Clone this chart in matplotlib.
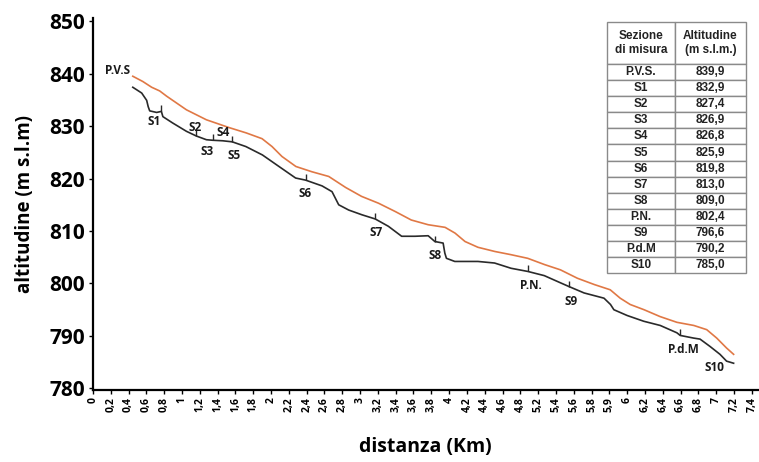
import matplotlib
matplotlib.use("Agg")
import matplotlib.pyplot as plt
import numpy as np

# profilo del fondo (linea nera) - distanza km, altitudine m s.l.m.
x_fondo = [0.447, 0.547, 0.603, 0.620, 0.637, 0.715, 0.768, 0.785, 0.894, 1.050,
           1.162, 1.274, 1.344, 1.456, 1.564, 1.717, 1.903, 2.089, 2.276, 2.388,
           2.573, 2.685, 2.760, 2.872, 3.020, 3.170, 3.318, 3.467, 3.617, 3.765,
           3.840, 3.933, 3.952, 3.970, 4.064, 4.324, 4.511, 4.696, 4.883, 5.069,
           5.255, 5.349, 5.516, 5.740, 5.813, 5.851, 6.000, 6.187, 6.372, 6.559,
           6.596, 6.745, 6.819, 6.931, 7.043, 7.117, 7.196]
y_fondo = [837.4, 836.3, 834.9, 833.7, 832.9, 832.6, 832.8, 831.8, 830.6, 829.0,
           828.1, 827.4, 827.3, 827.2, 827.0, 826.1, 824.5, 822.3, 820.1, 819.7,
           818.6, 817.5, 815.0, 814.0, 813.1, 812.3, 810.9, 809.0, 809.0, 809.1,
           808.0, 807.7, 805.8, 804.8, 804.2, 804.2, 803.9, 802.9, 802.3, 801.5,
           800.1, 799.4, 798.2, 797.2, 796.0, 795.0, 793.9, 792.8, 792.0, 790.6,
           790.1, 789.6, 789.4, 788.0, 786.5, 785.2, 784.8]

# pelo libero (linea arancione)
x_pelo = [0.447, 0.559, 0.659, 0.749, 0.827, 1.050, 1.274, 1.531, 1.721, 1.899,
          2.011, 2.123, 2.279, 2.458, 2.648, 2.838, 3.017, 3.207, 3.397, 3.575,
          3.765, 3.955, 4.067, 4.179, 4.324, 4.514, 4.693, 4.883, 5.073, 5.251,
          5.441, 5.631, 5.810, 5.922, 6.034, 6.190, 6.369, 6.559, 6.749, 6.894,
          7.006, 7.117, 7.196]
y_pelo = [839.5, 838.5, 837.4, 836.7, 835.7, 833.1, 831.2, 829.7, 828.7, 827.6,
          826.1, 824.2, 822.3, 821.3, 820.4, 818.3, 816.6, 815.3, 813.7, 812.1,
          811.2, 810.7, 809.6, 808.0, 806.9, 806.1, 805.5, 804.8, 803.6, 802.6,
          801.0, 799.8, 798.8, 797.2, 796.0, 795.0, 793.7, 792.6, 792.0, 791.2,
          789.6, 787.7, 786.5]

# sezioni di misura sul profilo (trattini)
x_sez = [0.768, 1.162, 1.344, 1.564, 2.388, 3.170, 3.840, 4.883, 5.349, 6.596]
y_sez = [832.8, 828.1, 827.3, 827.0, 819.7, 812.3, 808.0, 802.3, 799.4, 790.1]

# etichette delle sezioni
etichette = ["P.V.S", "S1", "S2", "S4", "S3", "S5", "S6", "S7", "S8", "P.N.", "S9", "P.d.M", "S10"]
x_etich = [0.28, 0.69, 1.15, 1.46, 1.28, 1.58, 2.38, 3.18, 3.84, 4.92, 5.37, 6.63, 6.98]
y_etich = [840.5, 830.8, 829.8, 828.7, 825.1, 824.3, 817.1, 809.8, 805.3, 799.6, 796.5, 787.4, 784.0]

# etichette asse x (come nell'originale)
xtick_lab = ["0", "0,2", "0,4", "0,6", "0,8", "1", "1,2", "1,4", "1,6", "1,8", "2",
             "2,2", "2,4", "2,6", "2,8", "3", "3,2", "3,4", "3,6", "3,8", "4",
             "4,2", "4,4", "4,6", "4,8", "5,2", "5,4", "5,6", "5,8", "5,9", "6",
             "6,2", "6,4", "6,6", "6,8", "7", "7,2", "7,4"]
yticks = [780, 790, 800, 810, 820, 830, 840, 850]

# tabella
sezioni = ["P.V.S.", "S1", "S2", "S3", "S4", "S5", "S6", "S7", "S8", "P.N.", "S9", "P.d.M", "S10"]
altitudini = ["839,9", "832,9", "827,4", "826,9", "826,8", "825,9", "819,8",
              "813,0", "809,0", "802,4", "796,6", "790,2", "785,0"]

font = "Open Sans"

fig = plt.figure(figsize=(7.59, 4.62), dpi=100)
ax = fig.add_axes([93/759, 1-390/462, 665/759, 372/462])

ax.plot(x_pelo, y_pelo, color="#e07845", lw=1.2)
ax.plot(x_fondo, y_fondo, color="#2a2a2a", lw=1.2)
ax.plot(x_sez, y_sez, ls="none", marker=2, ms=4, mew=1.0, color="#2a2a2a")

for t, xx, yy in zip(etichette, x_etich, y_etich):
    ax.text(xx, yy, t, ha="center", va="center", fontsize=8.5,
            fontweight="bold", family=font, color="#1a1a1a")

ax.set_xlim(0, 7.47)
ax.set_ylim(779.7, 850.6)
ax.set_xticks(np.arange(len(xtick_lab)) * 0.2)
ax.set_xticklabels(xtick_lab, rotation=90, fontsize=7.5, fontweight="bold", family=font)
ax.set_yticks(yticks)
ax.set_yticklabels([str(v) for v in yticks], fontsize=15, fontweight="bold", family=font)
ax.tick_params(axis="x", length=3, width=1, pad=2)
ax.tick_params(axis="y", length=3, width=1, pad=3)

for s in ["top", "right"]:
    ax.spines[s].set_visible(False)
for s in ["left", "bottom"]:
    ax.spines[s].set_linewidth(1.6)

ax.set_ylabel("altitudine (m s.l.m)", fontsize=13.5, fontweight="bold", family=font, labelpad=10)
ax.set_xlabel("distanza (Km)", fontsize=14, fontweight="bold", family=font, labelpad=18)

# tabella a destra
axt = fig.add_axes([607/759, 1-273/462, 139/759, 251/462])
axt.axis("off")
tab = axt.table(cellText=[[a, b] for a, b in zip(sezioni, altitudini)],
                colLabels=["Sezione\ndi misura", "Altitudine\n(m s.l.m.)"],
                cellLoc="center", bbox=[0, 0, 1, 1])
tab.auto_set_font_size(False)
for (r, c), cell in tab.get_celld().items():
    cell.set_edgecolor("#8a8a8a")
    cell.set_linewidth(1.0)
    cell.set_width(68 if c == 0 else 71)
    cell.set_height(42 if r == 0 else 16)
    cell.get_text().set_fontsize(8.5)
    cell.get_text().set_fontweight("bold")
    cell.get_text().set_family("Liberation Sans")
    cell.get_text().set_color("#222222")

fig.savefig("out.png", dpi=100)
